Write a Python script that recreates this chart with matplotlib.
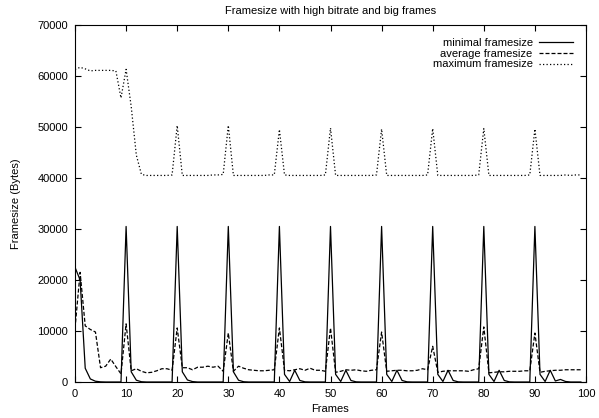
import numpy as np
import matplotlib
matplotlib.use("Agg")
import matplotlib.pyplot as plt

plt.rcParams['font.family'] = ['Liberation Sans', 'DejaVu Sans']

frames = np.arange(100)

min_size = [22500, 20000, 2700, 600, 150, 30, 0, 0, 0, 0,
            30500, 2000, 350, 50, 0, 0, 0, 0, 0, 0,
            30500, 2000, 400, 80, 0, 0, 0, 0, 0, 0,
            30500, 2000, 350, 50, 0, 0, 0, 0, 0, 0,
            30500, 1500, 100, 2300, 300, 30, 0, 0, 0, 0,
            30500, 1500, 100, 2300, 300, 30, 0, 0, 0, 0,
            30500, 1500, 100, 2300, 300, 30, 0, 0, 0, 0,
            30500, 1500, 100, 2300, 300, 30, 0, 0, 0, 0,
            30500, 1500, 100, 2300, 300, 30, 0, 0, 0, 0,
            30500, 1500, 100, 2300, 200, 500, 100, 0, 0, 0]

avg_size = [10500, 21500, 11000, 10300, 9800, 2800, 3100, 4500, 3000, 1600,
            11400, 2200, 2600, 2100, 1800, 1900, 2200, 2600, 2600, 2300,
            10600, 2800, 2800, 2400, 2900, 2900, 3100, 2900, 3100, 2100,
            9600, 2100, 3100, 2700, 2400, 2300, 2200, 2200, 2300, 2400,
            10600, 2300, 2200, 2400, 2600, 2300, 2700, 2300, 2300, 2100,
            10600, 1900, 2100, 2400, 2300, 2400, 2200, 2100, 2300, 2400,
            9800, 2100, 2200, 2300, 2300, 2200, 2200, 2300, 2600, 2400,
            7000, 1900, 2100, 2200, 2200, 2200, 2200, 2100, 2400, 2600,
            10800, 1800, 1900, 2000, 2000, 2100, 2100, 2100, 2200, 2200,
            9600, 1900, 2100, 2200, 2300, 2300, 2400, 2400, 2400, 2400]

max_size = [61300, 61700, 61400, 61000, 61100, 61100, 61100, 61100, 61000, 55700,
            61300, 54000, 44500, 40700, 40500, 40500, 40500, 40500, 40500, 40600,
            50300, 40500, 40500, 40500, 40500, 40500, 40500, 40600, 40600, 40700,
            50300, 40500, 40500, 40500, 40500, 40500, 40500, 40500, 40600, 40600,
            49500, 40600, 40500, 40500, 40500, 40500, 40500, 40500, 40500, 40600,
            49800, 40500, 40500, 40500, 40500, 40500, 40500, 40500, 40500, 40600,
            49600, 40500, 40500, 40500, 40500, 40500, 40500, 40500, 40500, 40600,
            49700, 40500, 40500, 40500, 40500, 40500, 40500, 40500, 40500, 40600,
            49700, 40500, 40500, 40500, 40500, 40500, 40500, 40500, 40500, 40600,
            49600, 40500, 40500, 40500, 40500, 40500, 40600, 40500, 40600, 40600]

fig = plt.figure(figsize=(5.99, 4.18), dpi=100)
ax = fig.add_axes([75 / 599, 1 - 382 / 418, 511 / 599, 357 / 418])

ax.plot(frames, min_size, color="black", lw=0.9, label="minimal framesize")
ax.plot(frames, avg_size, color="black", lw=0.9, dashes=(3.2, 1.6), label="average framesize")
ax.plot(frames, max_size, color="black", lw=0.9, dashes=(1, 1.8), label="maximum framesize")

ax.set_xlim(0, 100)
ax.set_ylim(0, 70000)
ax.set_xticks(np.arange(0, 101, 10))
ax.set_yticks(np.arange(0, 70001, 10000))
ax.tick_params(direction="in", top=True, right=True, length=4, width=0.8,
               labelsize=8, pad=5)
for s in ax.spines.values():
    s.set_linewidth(0.8)

ax.set_xlabel("Frames", fontsize=8, labelpad=4)
ax.set_ylabel("Framesize (Bytes)", fontsize=8, labelpad=12)
ax.set_title("Framesize with high bitrate and big frames", fontsize=8, pad=8)

ax.legend(loc="upper right", frameon=False, markerfirst=False, fontsize=8,
          handlelength=3.0, handletextpad=0.6, labelspacing=0.05,
          borderpad=0.2, borderaxespad=1.0)

fig.savefig("out.png", dpi=100)
